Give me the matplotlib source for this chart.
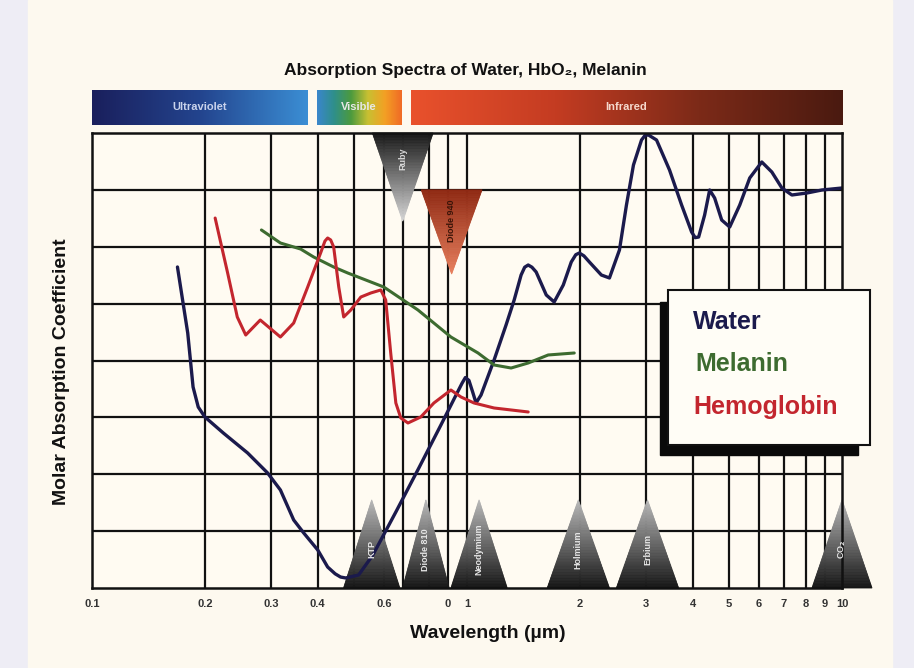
import numpy as np
import matplotlib.pyplot as plt
from matplotlib.patches import Rectangle
from matplotlib.colors import LinearSegmentedColormap, to_rgb
from matplotlib.ticker import NullLocator

plt.rcParams['font.family'] = ['Liberation Sans', 'DejaVu Sans']
plt.rcParams['font.weight'] = 'bold'

# wavelength in micrometres, absorption in grid units (0-8)
water_wl = [0.169, 0.180, 0.186, 0.192, 0.200, 0.224, 0.260, 0.294, 0.318, 0.345, 0.367, 0.400,
            0.425, 0.445, 0.460, 0.475, 0.514, 0.561, 0.646, 0.744, 0.852, 0.935, 0.970, 0.990,
            1.012, 1.035, 1.057, 1.090, 1.181, 1.271, 1.336, 1.394, 1.425, 1.456, 1.490, 1.529,
            1.627, 1.708, 1.806, 1.897, 1.950, 1.993, 2.050, 2.120, 2.282, 2.398, 2.550, 2.662,
            2.779, 2.920, 2.985, 3.048, 3.202, 3.468, 3.735, 3.972, 4.060, 4.147, 4.302, 4.437,
            4.575, 4.777, 5.018, 5.338, 5.675, 6.111, 6.500, 6.913, 7.351, 8.063, 8.842, 10.0]
water_abs = [5.644, 4.484, 3.534, 3.182, 3.007, 2.725, 2.374, 2.022, 1.723, 1.196, 0.967, 0.668,
             0.369, 0.250, 0.193, 0.176, 0.229, 0.580, 1.336, 2.110, 2.866, 3.393, 3.600, 3.700,
             3.650, 3.450, 3.253, 3.393, 4.009, 4.624, 5.064, 5.503, 5.640, 5.679, 5.640, 5.556,
             5.152, 5.029, 5.327, 5.732, 5.860, 5.890, 5.840, 5.732, 5.503, 5.451, 5.943, 6.734,
             7.437, 7.877, 7.960, 7.965, 7.877, 7.349, 6.734, 6.259, 6.160, 6.171, 6.558, 6.998,
             6.857, 6.470, 6.347, 6.734, 7.209, 7.490, 7.314, 7.033, 6.910, 6.945, 6.998, 7.033]

melanin_wl = [0.283, 0.318, 0.360, 0.390, 0.441, 0.481, 0.600, 0.740, 0.906, 1.070, 1.181, 1.311,
              1.456, 1.646, 1.932]
melanin_abs = [6.295, 6.066, 5.960, 5.820, 5.644, 5.538, 5.292, 4.888, 4.413, 4.132, 3.921, 3.868,
               3.956, 4.097, 4.132]

hemo_wl = [0.213, 0.230, 0.244, 0.257, 0.281, 0.318, 0.345, 0.376, 0.407, 0.418, 0.425, 0.433,
           0.441, 0.455, 0.469, 0.490, 0.521, 0.554, 0.589, 0.607, 0.626, 0.646, 0.666, 0.696,
           0.753, 0.816, 0.906, 0.964, 1.044, 1.181, 1.456]
hemo_abs = [6.505, 5.538, 4.765, 4.448, 4.712, 4.413, 4.659, 5.292, 5.890, 6.100, 6.154, 6.120,
            5.996, 5.292, 4.765, 4.888, 5.116, 5.187, 5.240, 5.064, 4.132, 3.253, 2.989, 2.901,
            3.007, 3.253, 3.481, 3.358, 3.253, 3.165, 3.095]

# lasers: name, wavelength (as drawn)
top_lasers = ['Ruby', 'Diode 940']
top_wl = [0.674, 0.91]
bottom_lasers = ['KTP', 'Diode 810', 'Neodymium', 'Holmium', 'Erbium', 'CO$_2$']
bottom_wl = [0.557, 0.777, 1.077, 1.981, 3.029, 10.0]

tick_pos = [0.1, 0.2, 0.3, 0.4, 0.6, 0.89, 1, 2, 3, 4, 5, 6, 7, 8, 9, 10]
tick_labels = ['0.1', '0.2', '0.3', '0.4', '0.6', '0', '1', '2', '3', '4', '5', '6', '7', '8', '9', '10']
grid_x = [0.2, 0.3, 0.4, 0.5, 0.6, 0.675, 0.79, 0.89, 1, 2, 3, 4, 5, 6, 7, 8, 9]

# spectral bands, in micrometres
band_names = ['Ultraviolet', 'Visible', 'Infrared']
band_lo = [0.1, 0.397, 0.708]
band_hi = [0.376, 0.666, 10.0]

W, H = 914, 668
fig = plt.figure(figsize=(9.14, 6.68), dpi=100)
fig.patch.set_facecolor('#eeedf5')
fig.patches.append(Rectangle((28 / W, 0), (892 - 28) / W, 1, transform=fig.transFigure,
                             color='#fdf9ef', zorder=-10))

ax = fig.add_axes([92 / W, 80 / H, 750 / W, 455 / H])
ax.set_facecolor('#fffbf2')
ax.set_xscale('log')

ax.vlines(grid_x, 0, 8, color='#111111', lw=1.6, zorder=1)
ax.hlines(range(1, 8), 0.1, 10, color='#111111', lw=1.6, zorder=1)
for s in ax.spines.values():
    s.set_linewidth(1.8)
    s.set_color('#111111')
    s.set_zorder(6)

ax.xaxis.set_minor_locator(NullLocator())
ax.set_xticks(tick_pos)
ax.set_xticklabels(tick_labels, fontsize=8, color='#333333', fontweight='bold')
ax.set_yticks([])
ax.tick_params(axis='x', length=0, pad=8)
ax.get_xticklabels()[-1].set_x(10.25)


def grad_triangle(center, half, y_base, y_apex, c_base, c_apex, n=60):
    cb = np.array(to_rgb(c_base))
    ca = np.array(to_rgb(c_apex))
    for i in range(n):
        t0, t1 = i / n, (i + 1) / n
        y0 = y_base + t0 * (y_apex - y_base)
        y1 = y_base + t1 * (y_apex - y_base)
        h0, h1 = half * (1 - t0), half * (1 - t1)
        col = cb + (ca - cb) * (t0 + t1) / 2
        ax.fill([center * 10 ** -h0, center * 10 ** h0, center * 10 ** h1, center * 10 ** -h1],
                [y0, y0, y1, y1], color=col, lw=0.6, clip_on=False, zorder=2)


# top (downward) triangles
grad_triangle(top_wl[0], 0.081, 8.0, 6.45, '#151515', '#d8d8d8')
grad_triangle(top_wl[1], 0.081, 7.0, 5.52, '#8e2812', '#e8805e')
ax.text(top_wl[0], 7.55, top_lasers[0], rotation=90, ha='center', va='center',
        fontsize=6.5, color='#d8d8d8', zorder=7)
ax.text(top_wl[1], 6.45, top_lasers[1], rotation=90, ha='center', va='center',
        fontsize=6.5, color='#3a1408', zorder=7)

# bottom (upward) triangles
halfs = [0.075, 0.062, 0.075, 0.083, 0.083, 0.08]
for name, wl, hw in zip(bottom_lasers, bottom_wl, halfs):
    grad_triangle(wl, hw, 0.0, 1.55, '#141414', '#b8b8b8')
    ax.text(wl, 0.68, name, rotation=90, ha='center', va='center',
            fontsize=6.5, color='#e6e6e6', zorder=7, clip_on=False)

line_kw = dict(zorder=3, solid_capstyle='round', solid_joinstyle='round')
ax.plot(water_wl, water_abs, color='#1b1a4c', lw=2.4, **line_kw)
ax.plot(melanin_wl, melanin_abs, color='#3d6b30', lw=2.2, **line_kw)
ax.plot(hemo_wl, hemo_abs, color='#c3262e', lw=2.2, **line_kw)

ax.set_xlim(0.1, 10)
ax.set_ylim(0, 8)

# spectral band strip
bax = fig.add_axes([92 / W, (H - 125) / H, 750 / W, 35 / H])
bax.axis('off')
band_cols = [['#1a1f5c', '#23448e', '#3b8ed4'],
             ['#3a86cc', '#2f8f8a', '#4c9a3e', '#c8c032', '#f3a024', '#f06a26'],
             ['#e9512c', '#c43c22', '#7c2a18', '#4a1a10']]
text_cols = ['#c9d3ec', '#e8e8e8', '#f5d8cc']
grad = np.linspace(0, 1, 256).reshape(1, -1)
for name, lo, hi, cols, tc in zip(band_names, band_lo, band_hi, band_cols, text_cols):
    cmap = LinearSegmentedColormap.from_list(name, cols)
    l0, l1 = np.log10(lo), np.log10(hi)
    bax.imshow(grad, cmap=cmap, extent=[l0, l1, 0, 1], aspect='auto')
    bax.text((l0 + l1) / 2, 0.5, name, ha='center', va='center', fontsize=8,
             color=tc, fontweight='bold')
bax.set_xlim(-1, 1)
bax.set_ylim(0, 1)

fig.text(465 / W, 1 - 70 / H, 'Absorption Spectra of Water, HbO₂, Melanin',
         ha='center', va='center', fontsize=12.5, color='#111111')
fig.text(62 / W, 1 - 372 / H, 'Molar Absorption Coefficient', rotation=90,
         ha='center', va='center', fontsize=14, color='#111111')
fig.text(488 / W, 1 - 633 / H, 'Wavelength (µm)', ha='center', va='center',
         fontsize=14, color='#111111')

# legend box with drop shadow
fig.patches.append(Rectangle((660 / W, (H - 455) / H), (858 - 660) / W, (455 - 302) / H,
                             transform=fig.transFigure, color='#0a0a0a', zorder=8))
fig.patches.append(Rectangle((668 / W, (H - 445) / H), (870 - 668) / W, (445 - 290) / H,
                             transform=fig.transFigure, facecolor='#fffdf6',
                             edgecolor='#111111', lw=1.5, zorder=9))
fig.text(693 / W, 1 - 322 / H, 'Water', fontsize=18, color='#1b1a4c', va='center', zorder=10)
fig.text(695 / W, 1 - 364 / H, 'Melanin', fontsize=18, color='#3d6b30', va='center', zorder=10)
fig.text(693 / W, 1 - 407 / H, 'Hemoglobin', fontsize=18, color='#c3262e', va='center', zorder=10)

fig.savefig('out.png', dpi=100, facecolor=fig.get_facecolor())
